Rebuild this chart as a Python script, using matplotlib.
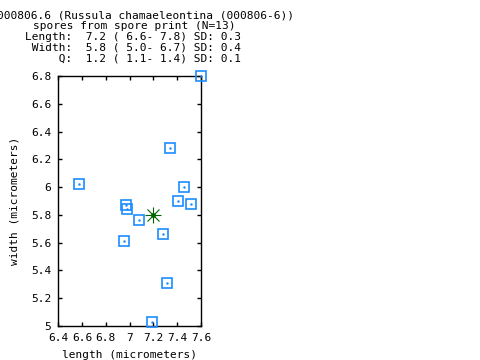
import matplotlib
matplotlib.use("Agg")
import matplotlib.pyplot as plt

length = [7.60, 7.34, 6.57, 7.46, 7.41, 7.52, 6.97, 6.98, 7.08, 7.28, 6.95, 7.31, 7.19]
width = [6.80, 6.28, 6.02, 6.00, 5.90, 5.88, 5.87, 5.84, 5.76, 5.66, 5.61, 5.31, 5.03]
mean_length = 7.2
mean_width = 5.8

x_ticks = [6.4, 6.6, 6.8, 7.0, 7.2, 7.4, 7.6]
x_labels = ["6.4", "6.6", "6.8", "7", "7.2", "7.4", "7.6"]
y_ticks = [5.0, 5.2, 5.4, 5.6, 5.8, 6.0, 6.2, 6.4, 6.6, 6.8]
y_labels = ["5", "5.2", "5.4", "5.6", "5.8", "6", "6.2", "6.4", "6.6", "6.8"]

header = [
    "000806.6 (Russula chamaeleontina (000806-6))",
    "spores from spore print (N=13)",
    "Length:  7.2 ( 6.6- 7.8) SD: 0.3",
    " Width:  5.8 ( 5.0- 6.7) SD: 0.4",
    "     Q:  1.2 ( 1.1- 1.4) SD: 0.1",
]
header_x = [-3, 33, 25, 25, 25]
header_y = [15, 26, 37, 47.5, 58.5]

FONT = "DejaVu Sans Mono"
FS = 8
W, H = 480, 360

fig = plt.figure(figsize=(4.8, 3.6), dpi=100)
ax = fig.add_axes([58.3 / W, 1 - 326 / H, (201 - 58.3) / W, (326 - 76) / H])

blue = "#1a8cff"
ax.plot(length, width, linestyle="none", marker="s", markersize=7.6,
        markerfacecolor="none", markeredgecolor=blue, markeredgewidth=1.2,
        clip_on=False, zorder=3)
ax.plot(length, width, linestyle="none", marker=".", markersize=1.5,
        color=blue, clip_on=False, zorder=3)

green = "#006400"
ax.plot([mean_length], [mean_width], marker="+", markersize=12,
        markeredgewidth=0.8, color=green, zorder=4)
ax.plot([mean_length], [mean_width], marker="x", markersize=9,
        markeredgewidth=0.8, color=green, zorder=4)
ax.plot([mean_length], [mean_width], marker="o", markersize=2.5,
        color=green, zorder=4)

ax.set_xlim(6.4, 7.6)
ax.set_ylim(5.0, 6.8)
ax.set_xticks(x_ticks)
ax.set_xticklabels(x_labels)
ax.set_yticks(y_ticks)
ax.set_yticklabels(y_labels)
ax.tick_params(direction="in", length=3, width=1, top=True, right=True,
               labelsize=FS, pad=5)
for lbl in ax.get_xticklabels() + ax.get_yticklabels():
    lbl.set_family(FONT)
for sp in ax.spines.values():
    sp.set_linewidth(1)

ax.set_xlabel("length (micrometers)", family=FONT, fontsize=FS, labelpad=5)
ax.set_ylabel("width (micrometers)", family=FONT, fontsize=FS, labelpad=8)

for txt, x, y in zip(header, header_x, header_y):
    fig.text(x / W, 1 - y / H, txt, family=FONT, fontsize=FS,
             ha="left", va="center")

fig.savefig("out.png", dpi=100)
